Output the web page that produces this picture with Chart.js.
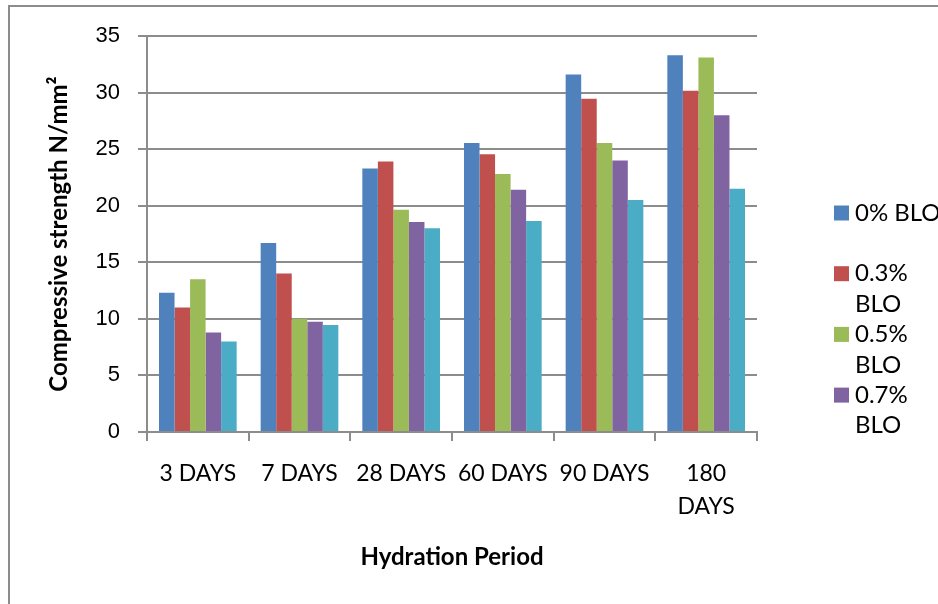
<!DOCTYPE html>
<html>
<head>
<meta charset="utf-8">
<script src="https://cdn.jsdelivr.net/npm/chart.js@4/dist/chart.umd.min.js"></script>
<style>
  html, body { margin: 0; padding: 0; background: #ffffff; overflow: hidden; }
  #wrap { position: relative; width: 938px; height: 604px; overflow: hidden; background: #ffffff; }
  #frame { position: absolute; left: 8px; top: 5px; width: 2000px; height: 2000px; border: 2px solid #8c8c8c; }
  #c { position: absolute; left: 0; top: 0; }
</style>
</head>
<body>
<div id="wrap">
  <div id="frame"></div>
  <canvas id="c" width="938" height="604"></canvas>
</div>
<script>
// ---- data ----
const categories = ['3 DAYS', '7 DAYS', '28 DAYS', '60 DAYS', '90 DAYS', '180 DAYS'];
const seriesNames = ['0% BLO', '0.3% BLO', '0.5% BLO', '0.7% BLO', '1% BLO'];
const blo0  = [12.3, 16.7, 23.3, 25.55, 31.6, 33.3];
const blo03 = [11.0, 14.0, 23.9, 24.55, 29.45, 30.15];
const blo05 = [13.5, 10.0, 19.65, 22.8, 25.55, 33.1];
const blo07 = [8.8, 9.75, 18.55, 21.4, 24.0, 28.0];
const blo10 = [8.0, 9.45, 18.0, 18.65, 20.5, 21.5];
const yMin = 0, yMax = 35, yStep = 5;
const xTitle = 'Hydration Period';
const yTitle = 'Compressive strength N/mm²';

// ---- styles ----
const colors = ['#4F81BD', '#C0504D', '#9BBB59', '#8064A2', '#4BACC6'];
const seriesValues = [blo0, blo03, blo05, blo07, blo10];
const TXT = 'Lato, "Noto Sans", sans-serif';
const GRID = '#8c8c8c';

const legendPlugin = {
  id: 'excelLegend',
  afterDraw(chart) {
    const ctx = chart.ctx;
    ctx.save();
    ctx.font = '24px ' + TXT;
    ctx.textBaseline = 'middle';
    ctx.textAlign = 'left';
    const boxX = 834, box = 15, textX = 855, maxW = 86, lineH = 30.5, step = 60.7, limit = 440;
    let y = 213;
    chart.data.datasets.forEach((ds) => {
      if (y > limit) return;
      const words = ds.label.split(' ');
      const lines = [];
      let cur = '';
      words.forEach(w => {
        const t = cur ? cur + ' ' + w : w;
        if (ctx.measureText(t).width > maxW && cur) { lines.push(cur); cur = w; }
        else cur = t;
      });
      if (cur) lines.push(cur);
      ctx.fillStyle = ds.backgroundColor;
      ctx.fillRect(boxX, y - box / 2, box, box);
      ctx.fillStyle = '#000';
      lines.forEach((l, k) => ctx.fillText(l, textX, y + k * lineH));
      y += step;
    });
    ctx.restore();
  }
};

new Chart(document.getElementById('c'), {
  type: 'bar',
  data: {
    labels: categories,
    datasets: seriesNames.map((n, i) => ({
      label: n,
      data: seriesValues[i],
      backgroundColor: colors[i],
      borderWidth: 0,
      categoryPercentage: 0.764,
      barPercentage: 1.0
    }))
  },
  options: {
    responsive: false,
    devicePixelRatio: 1,
    animation: false,
    layout: { padding: { top: 36, right: 181, bottom: 0, left: 0 } },
    plugins: {
      legend: { display: false },
      tooltip: { enabled: false }
    },
    scales: {
      x: {
        offset: true,
        grid: { display: true, drawOnChartArea: false, drawTicks: true, tickLength: 9, color: GRID, lineWidth: 2, offset: true },
        border: { display: true, color: GRID, width: 2 },
        ticks: {
          color: '#000',
          font: { family: TXT, size: 23, lineHeight: 1.435 },
          padding: 16,
          maxRotation: 0,
          autoSkip: false,
          callback: function (v, i) {
            const s = categories[i];
            return s.length > 7 ? s.split(' ') : s;
          }
        },
        title: { display: true, text: xTitle, color: '#000', font: { family: TXT, size: 24, weight: 'bold', lineHeight: 1.2 }, padding: { top: 0, bottom: 32 } },
        afterFit: (s) => { s.height = 172; }
      },
      y: {
        min: yMin, max: yMax,
        grid: { color: GRID, lineWidth: 2, tickLength: 9, drawTicks: true },
        border: { display: true, color: GRID, width: 2 },
        ticks: {
          stepSize: yStep,
          color: '#000',
          padding: 18,
          font: { family: '"Liberation Sans", Arial, sans-serif', size: 22 }
        },
        title: { display: true, text: yTitle, color: '#000', font: { family: TXT, size: 24, weight: 'bold', lineHeight: 1.2 }, padding: { top: 45, bottom: 0 } },
        afterFit: (s) => { s.width = 147; }
      }
    }
  },
  plugins: [legendPlugin]
});
</script>
</body>
</html>
